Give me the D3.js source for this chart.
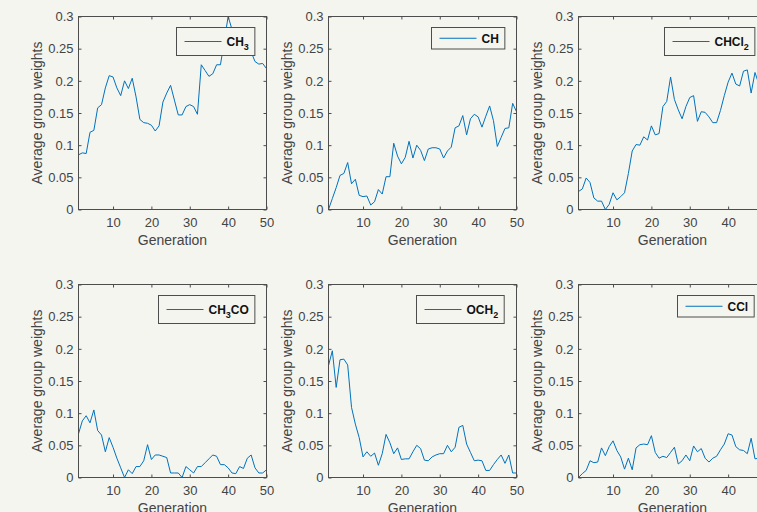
<!DOCTYPE html>
<html>
<head>
<meta charset="utf-8">
<script src="https://cdn.jsdelivr.net/npm/d3@7"></script>
<style>
  body { margin: 0; background: #f5f5f0; overflow: hidden; }
  svg { display: block; font-family: "Liberation Sans", Arial, sans-serif; }
</style>
</head>
<body>
<div id="chart"></div>
<script>
const generations = [1, 2, 3, 4, 5, 6, 7, 8, 9, 10, 11, 12, 13, 14, 15, 16, 17, 18, 19, 20,
  21, 22, 23, 24, 25, 26, 27, 28, 29, 30, 31, 32, 33, 34, 35, 36, 37, 38, 39, 40,
  41, 42, 43, 44, 45, 46, 47, 48, 49, 50];

const ch3 = [0.085, 0.088, 0.087, 0.12, 0.123, 0.158, 0.163, 0.189, 0.208, 0.206,
  0.189, 0.177, 0.2, 0.188, 0.204, 0.175, 0.14, 0.135, 0.134, 0.131,
  0.122, 0.13, 0.167, 0.181, 0.193, 0.17, 0.147, 0.147, 0.16, 0.163,
  0.16, 0.148, 0.225, 0.216, 0.207, 0.211, 0.225, 0.225, 0.262, 0.3,
  0.28, 0.272, 0.268, 0.26, 0.252, 0.245, 0.23, 0.226, 0.227, 0.219];
const ch = [0, 0.017, 0.034, 0.053, 0.056, 0.073, 0.04, 0.047, 0.022, 0.02,
  0.021, 0.007, 0.012, 0.031, 0.024, 0.051, 0.051, 0.103, 0.083, 0.071,
  0.081, 0.106, 0.08, 0.1, 0.092, 0.076, 0.094, 0.096, 0.096, 0.094,
  0.08, 0.091, 0.097, 0.127, 0.13, 0.146, 0.116, 0.141, 0.148, 0.144,
  0.128, 0.145, 0.161, 0.138, 0.098, 0.112, 0.126, 0.127, 0.165, 0.152];
const chcl2 = [0.028, 0.032, 0.049, 0.042, 0.018, 0.013, 0.013, 0, 0.008, 0.026,
  0.015, 0.02, 0.026, 0.056, 0.091, 0.101, 0.1, 0.113, 0.108, 0.13,
  0.116, 0.118, 0.16, 0.168, 0.206, 0.171, 0.155, 0.141, 0.16, 0.174,
  0.177, 0.137, 0.152, 0.151, 0.144, 0.135, 0.135, 0.154, 0.177, 0.198,
  0.212, 0.195, 0.192, 0.215, 0.217, 0.181, 0.213, 0.195, 0.2, 0.21];
const ch3co = [0.068, 0.088, 0.096, 0.085, 0.105, 0.073, 0.066, 0.04, 0.062, 0.047,
  0.03, 0.015, 0, 0.012, 0.006, 0.017, 0.017, 0.026, 0.051, 0.028,
  0.035, 0.035, 0.033, 0.031, 0.007, 0.007, 0.007, 0, 0.017, 0.012,
  0.007, 0.017, 0.017, 0.023, 0.029, 0.035, 0.033, 0.02, 0.02, 0.015,
  0.007, 0.006, 0.017, 0.014, 0.03, 0.035, 0.015, 0.007, 0.007, 0.012];
const och2 = [0.174, 0.197, 0.14, 0.183, 0.184, 0.175, 0.109, 0.083, 0.062, 0.032,
  0.04, 0.033, 0.038, 0.019, 0.037, 0.067, 0.054, 0.037, 0.046, 0.028,
  0.029, 0.029, 0.04, 0.05, 0.045, 0.027, 0.026, 0.032, 0.035, 0.037,
  0.037, 0.05, 0.04, 0.047, 0.078, 0.081, 0.052, 0.039, 0.026, 0.027,
  0.026, 0.011, 0.011, 0.02, 0.028, 0.035, 0.022, 0.035, 0.007, 0.007];
const ccl = [0, 0.006, 0.011, 0.026, 0.023, 0.024, 0.046, 0.034, 0.048, 0.057,
  0.042, 0.032, 0.013, 0.03, 0.012, 0.046, 0.051, 0.052, 0.051, 0.065,
  0.039, 0.03, 0.033, 0.031, 0.039, 0.047, 0.021, 0.026, 0.035, 0.026,
  0.049, 0.04, 0.045, 0.03, 0.024, 0.03, 0.033, 0.043, 0.052, 0.068,
  0.066, 0.048, 0.043, 0.042, 0.037, 0.061, 0.029, 0.03, 0.035, 0.03];

// legend names, "_" marks a subscript digit
const groupNames = ["CH_3", "CH", "CHCl_2", "CH_3CO", "OCH_2", "CCl"];
const groupSeries = [ch3, ch, chcl2, ch3co, och2, ccl];

const xTicks = [10, 20, 30, 40, 50];
const yTicks = [0, 0.05, 0.1, 0.15, 0.2, 0.25, 0.3];
const yTickLabels = ["0", "0.05", "0.1", "0.15", "0.2", "0.25", "0.3"];
const xLabel = "Generation";
const yLabel = "Average group weights";

const width = 757, height = 512;
const colLeft = [78, 328, 578];
const rowTop = [16, 284];
const pw = 188, ph = 193;
const axisColor = "#4d4d4d";
const textColor = "#444";
const lineColor = "#0072bd";
const bg = "#f5f5f0";

var svg = d3.select("#chart").append("svg")
  .attr("width", width)
  .attr("height", height)
  .attr("viewBox", `0 0 ${width} ${height}`);

svg.append("rect").attr("width", width).attr("height", height).attr("fill", bg);

var x = d3.scaleLinear().domain([1, 50]).range([0, pw]);
var y = d3.scaleLinear().domain([0, 0.3]).range([ph, 0]);

var line = d3.line()
  .x((d, i) => x(generations[i]))
  .y(d => y(d));

function drawPanel(idx) {
  var col = idx % 3, row = Math.floor(idx / 3);
  var g = svg.append("g")
    .attr("transform", `translate(${colLeft[col] + 0.5},${rowTop[row] + 0.5})`);

  // the data line
  g.append("path")
    .datum(groupSeries[idx])
    .attr("fill", "none")
    .attr("stroke", lineColor)
    .attr("stroke-width", 1)
    .attr("stroke-linejoin", "round")
    .attr("d", line);

  // axes, ticks pointing inward on all four sides
  var bottom = g.append("g").attr("transform", `translate(0,${ph})`)
    .call(d3.axisBottom(x).tickValues(xTicks).tickSizeInner(-3).tickSizeOuter(0).tickPadding(8));
  var left = g.append("g")
    .call(d3.axisLeft(y).tickValues(yTicks).tickFormat((d, i) => yTickLabels[i])
      .tickSizeInner(-3).tickSizeOuter(0).tickPadding(5));
  var top = g.append("g")
    .call(d3.axisTop(x).tickValues(xTicks).tickSizeInner(-3).tickSizeOuter(0).tickFormat(""));
  var right = g.append("g").attr("transform", `translate(${pw},0)`)
    .call(d3.axisRight(y).tickValues(yTicks).tickSizeInner(-3).tickSizeOuter(0).tickFormat(""));

  [bottom, left, top, right].forEach(function (a) {
    a.select(".domain").remove();
    a.selectAll("line").attr("stroke", axisColor);
    a.selectAll("text")
      .attr("fill", textColor)
      .style("font-size", "13px")
      .style("font-family", "'Liberation Sans', Arial, sans-serif");
  });

  g.append("rect")
    .attr("width", pw)
    .attr("height", ph)
    .attr("fill", "none")
    .attr("stroke", axisColor);

  // axis labels
  g.append("text")
    .attr("x", pw / 2)
    .attr("y", 228)
    .attr("text-anchor", "middle")
    .attr("fill", textColor)
    .style("font-size", "14px")
    .text(xLabel);

  g.append("text")
    .attr("transform", `translate(-41,${ph / 2}) rotate(-90)`)
    .attr("text-anchor", "middle")
    .attr("dy", "0.35em")
    .attr("fill", textColor)
    .style("font-size", "14px")
    .text(yLabel);

  // legend box
  var name = groupNames[idx];
  var hasSub = name.indexOf("_") >= 0;
  var boxH = hasSub ? 28 : 21.5;
  var leg = g.append("g");
  var boxRect = leg.append("rect");
  var midY = boxH / 2;

  leg.append("line")
    .attr("x1", 8).attr("x2", 45)
    .attr("y1", midY).attr("y2", midY)
    .attr("stroke", lineColor)
    .attr("stroke-width", 1);

  var label = leg.append("text")
    .attr("x", 50)
    .attr("y", midY + 4.5)
    .attr("fill", "#111")
    .style("font-size", "12px")
    .style("font-weight", "bold");

  name.split(/(_\d)/).filter(s => s.length).forEach(function (part) {
    if (part[0] === "_") {
      label.append("tspan").attr("dy", 4).style("font-size", "9px").text(part.slice(1));
    } else {
      var t = label.append("tspan").text(part);
      if (label.selectAll("tspan").size() > 1) t.attr("dy", -4);
    }
  });

  var textW = label.node().getComputedTextLength();
  var boxW = 50 + textW + 6;
  boxRect
    .attr("width", boxW)
    .attr("height", boxH)
    .attr("fill", bg)
    .attr("stroke", axisColor);

  leg.attr("transform", `translate(${Math.round(pw - 12 - boxW)},11)`);
}

for (var i = 0; i < groupSeries.length; i++) {
  drawPanel(i);
}
</script>
</body>
</html>
